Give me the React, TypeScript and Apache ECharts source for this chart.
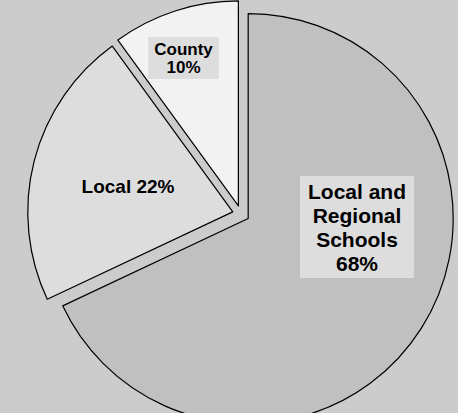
import React, { useEffect, useRef } from "react";
import * as echarts from "echarts";

const categories = ["Local and Regional Schools", "Local", "County"];
const values = [68, 22, 10];
const labelNames = ["Local and\nRegional\nSchools", "Local", "County"];
const labelJoin = ["\n", " ", "\n"];

const sliceColors = ["#c0c0c0", "#dddddd", "#f2f2f2"];
const labelSizes = [21, 19, 17];
const labelLineHeights = [24, 22, 18];
const labelPaddings = [[3, 8], [2, 4], [3, 6]];
const labelCenters = [
  [357, 227],
  [128, 186],
  [183.5, 58],
];

export default function App() {
  const ref = useRef<HTMLDivElement>(null);

  useEffect(() => {
    if (!ref.current) return;
    const chart = echarts.init(ref.current, null, { renderer: "svg" });
    const data = categories.map((name, i) => ({
      name,
      value: values[i],
      selected: true,
      itemStyle: { color: sliceColors[i] },
    }));
    const labels = categories.map((_, i) => ({
      type: "text",
      x: labelCenters[i][0],
      y: labelCenters[i][1],
      z: 10,
      silent: true,
      style: {
        text: `${labelNames[i]}${labelJoin[i]}${values[i]}%`,
        fill: "#000000",
        fontFamily: "Liberation Sans, Arial, sans-serif",
        fontWeight: "bold",
        fontSize: labelSizes[i],
        lineHeight: labelLineHeights[i],
        backgroundColor: "#dddddd",
        padding: labelPaddings[i],
        align: "center",
        verticalAlign: "middle",
      },
    }));
    chart.setOption({
      animation: false,
      backgroundColor: "#cccccc",
      series: [
        {
          type: "pie",
          center: [241, 214],
          radius: [0, 205],
          startAngle: 90,
          clockwise: true,
          selectedMode: "multiple",
          selectedOffset: 8.5,
          avoidLabelOverlap: false,
          silent: true,
          emphasis: { disabled: true },
          itemStyle: { borderColor: "#000000", borderWidth: 1.2 },
          labelLine: { show: false },
          label: { show: false },
          data,
        },
      ],
      graphic: labels,
    });
    return () => chart.dispose();
  }, []);

  return (
    <div
      ref={ref}
      style={{ position: "absolute", left: 0, top: 0, width: 458, height: 413 }}
    />
  );
}
